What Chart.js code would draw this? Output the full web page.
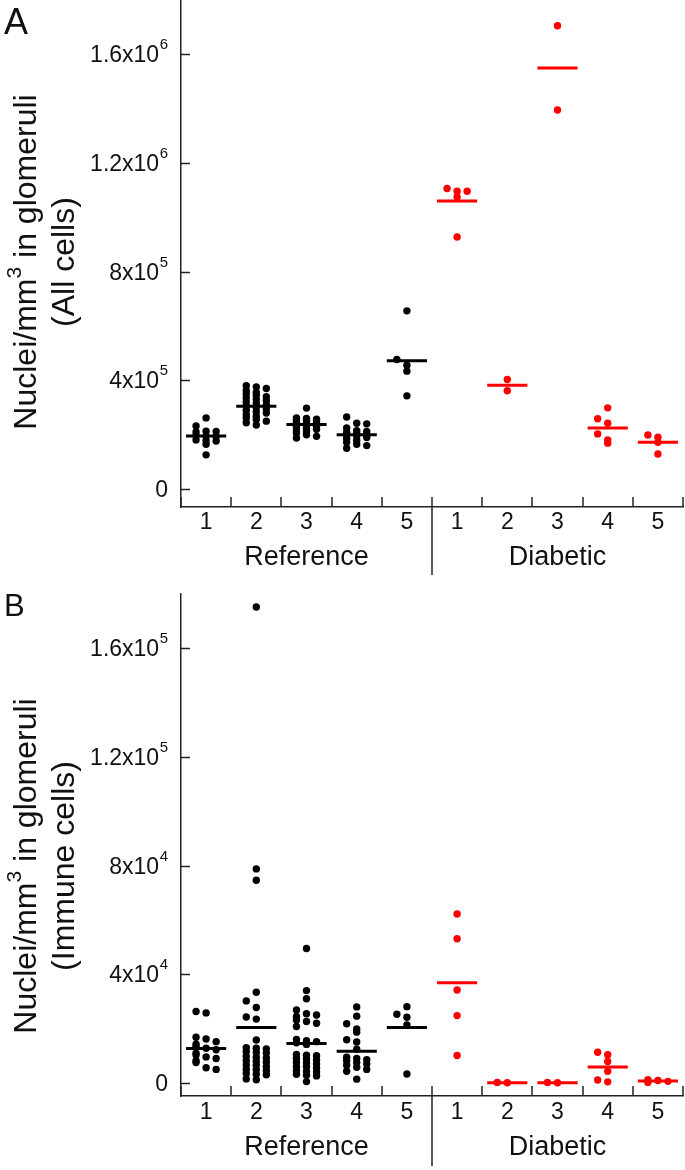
<!DOCTYPE html>
<html>
<head>
<meta charset="utf-8">
<script src="https://cdn.jsdelivr.net/npm/chart.js@4.4.1/dist/chart.umd.min.js"></script>
<style>
  body { margin: 0; background: #fff; width: 685px; height: 1170px; position: relative; overflow: hidden; }
  .panel { position: absolute; left: 0; width: 685px; }
  #wrapA { top: 0; height: 590px; }
  #wrapB { top: 590px; height: 580px; }
</style>
</head>
<body>
<div id="wrapA" class="panel"><canvas id="chartA" width="685" height="590"></canvas></div>
<div id="wrapB" class="panel"><canvas id="chartB" width="685" height="580"></canvas></div>
<script>
const catLabels = ['1', '2', '3', '4', '5', '1', '2', '3', '4', '5'];
const cohortLabels = ['Reference', 'Diabetic'];

// A: nuclei/mm3, all cells
const allRef1 = [262e3, 232e3, 213e3, 212e3, 210e3, 197e3, 195e3, 193e3, 181e3, 179e3, 177e3, 165e3, 126e3];
const allRef2 = [380e3, 376e3, 370e3, 362e3, 356e3, 350e3, 345e3, 340e3, 335e3, 330e3, 325e3, 320e3, 315e3, 310e3,
  305e3, 300e3, 295e3, 290e3, 285e3, 280e3, 274e3, 268e3, 262e3, 256e3, 250e3, 244e3, 236e3];
const allRef3 = [298e3, 262e3, 260e3, 257e3, 254e3, 251e3, 248e3, 245e3, 242e3, 239e3, 236e3, 233e3, 230e3, 227e3,
  224e3, 220e3, 216e3, 212e3, 206e3, 200e3, 194e3, 188e3];
const allRef4 = [265e3, 242e3, 240e3, 225e3, 215e3, 212e3, 208e3, 205e3, 200e3, 198e3, 195e3, 190e3, 185e3, 180e3,
  172e3, 165e3, 160e3, 150e3];
const allRef5 = [656e3, 477e3, 456e3, 434e3, 343e3];
const allDia1 = [1106e3, 1096e3, 1096e3, 1075e3, 928e3];
const allDia2 = [403e3, 362e3];
const allDia3 = [1705e3, 1395e3];
const allDia4 = [299e3, 259e3, 242e3, 203e3, 181e3, 169e3];
const allDia5 = [199e3, 191e3, 172e3, 129e3];
const allMeans = [195e3, 305e3, 238e3, 200e3, 472e3, 1060e3, 382e3, 1550e3, 225e3, 172e3];

// B: nuclei/mm3, immune cells
const immRef1 = [26.3e3, 25.8e3, 16.8e3, 16.2e3, 15.2e3, 14.3e3, 13.5e3, 12.8e3, 12.2e3, 11.0e3, 10.3e3, 9.6e3,
  9.0e3, 8.2e3, 7.5e3, 5.6e3, 5.0e3];
const immRef2 = [175.2e3, 78.8e3, 74.6e3, 33.4e3, 30.2e3, 27.8e3, 24.3e3, 23.5e3, 15.8e3, 13.0e3, 12.8e3, 12.5e3,
  11.5e3, 11.2e3, 11.0e3, 9.8e3, 9.5e3, 9.2e3, 8.2e3, 8.0e3, 7.6e3, 6.6e3, 6.5e3, 6.0e3, 5.0e3, 4.9e3, 4.5e3,
  3.5e3, 3.2e3, 3.0e3, 1.5e3, 1.2e3];
const immRef3 = [49.5e3, 34.0e3, 31.0e3, 26.9e3, 25.5e3, 25.0e3, 24.5e3, 23.2e3, 22.6e3, 22.0e3, 20.8e3, 16.0e3,
  15.6e3, 15.2e3, 14.8e3, 14.2e3, 10.5e3, 10.2e3, 10.0e3, 9.0e3, 8.8e3, 8.5e3, 7.5e3, 7.4e3, 7.0e3, 6.0e3, 6.0e3,
  5.5e3, 4.5e3, 4.2e3, 4.0e3, 3.2e3, 2.8e3, 2.6e3, 0.5e3];
const immRef4 = [28.0e3, 24.6e3, 21.8e3, 19.9e3, 18.7e3, 15.9e3, 15.1e3, 12.4e3, 9.5e3, 9.0e3, 8.6e3, 8.2e3, 7.5e3,
  7.0e3, 6.5e3, 5.8e3, 5.0e3, 4.3e3, 1.4e3];
const immRef5 = [28.1e3, 25.3e3, 24.2e3, 21.4e3, 3.3e3];
const immDia1 = [62.2e3, 53.1e3, 34.2e3, 24.8e3, 10.1e3];
const immDia2 = [0.2e3, 0.1e3];
const immDia3 = [0.2e3, 0.1e3];
const immDia4 = [11.3e3, 10.4e3, 7.9e3, 4.3e3, 1.1e3, 0.4e3];
const immDia5 = [1.2e3, 0.9e3, 0.6e3, 0.2e3];
const immMeans = [12.7e3, 20.4e3, 14.5e3, 11.7e3, 20.4e3, 36.9e3, 0.1e3, 0.1e3, 5.9e3, 0.7e3];

// y tick values and their labels (mantissa, exponent)
const ticksA = [0, 4e5, 8e5, 1.2e6, 1.6e6];
const tickTextA = [['0', ''], ['4x10', '5'], ['8x10', '5'], ['1.2x10', '6'], ['1.6x10', '6']];
const ticksB = [0, 4e4, 8e4, 1.2e5, 1.6e5];
const tickTextB = [['0', ''], ['4x10', '4'], ['8x10', '4'], ['1.2x10', '5'], ['1.6x10', '5']];

const FONT = '"Liberation Sans", Arial, sans-serif';
const RED = '#ff0000';
const BLACK = '#000000';

// spread points of one group sideways, row by row (dot plot)
function swarm(vals, cx, binVal, step) {
  const sorted = [...vals].sort((a, b) => b - a);
  const out = [];
  let i = 0;
  while (i < sorted.length) {
    let j = i;
    while (j < sorted.length && sorted[i] - sorted[j] <= binVal) j++;
    const bin = sorted.slice(i, j);
    const pat = bin.length === 1 ? [0] : bin.length === 2 ? [-1, 0] : [-1, 0, 1];
    bin.forEach((v, k) => out.push({ x: cx + pat[k % pat.length] * step, y: v }));
    i = j;
  }
  return out;
}

function sciLabel(ctx, mant, exp, xr, y) {
  ctx.textAlign = 'right';
  ctx.textBaseline = 'middle';
  let x = xr;
  if (exp) {
    ctx.font = '15px ' + FONT;
    ctx.fillText(exp, x, y - 10);
    x -= ctx.measureText(exp).width + 0.5;
  }
  ctx.font = '23px ' + FONT;
  ctx.fillText(mant, x, y + 1);
}

function decor(p) {
  return {
    id: 'decor',
    afterDraw(chart) {
      const ctx = chart.ctx;
      const xs = chart.scales.x, ys = chart.scales.y;
      const area = chart.chartArea;
      ctx.save();
      ctx.fillStyle = '#111';
      ctx.strokeStyle = '#222';
      ctx.lineWidth = 1.5;

      // y ticks pointing inward + labels
      p.ticks.forEach((v, i) => {
        const y = Math.round(ys.getPixelForValue(v)) + 0.5;
        ctx.beginPath();
        ctx.moveTo(area.left, y);
        ctx.lineTo(area.left + 9, y);
        ctx.stroke();
        sciLabel(ctx, p.tickText[i][0], p.tickText[i][1], area.left - 13, y);
      });

      // x ticks at group boundaries, pointing up
      for (let k = 0; k <= 10; k++) {
        const x = Math.round(xs.getPixelForValue(0.5 + k));
        ctx.beginPath();
        ctx.moveTo(x, area.bottom);
        ctx.lineTo(x, area.bottom - 10);
        ctx.stroke();
      }
      // divider between cohorts
      const xd = Math.round(xs.getPixelForValue(5.5));
      ctx.beginPath();
      ctx.moveTo(xd, area.bottom);
      ctx.lineTo(xd, area.bottom + p.divLen);
      ctx.stroke();

      // category numbers and cohort names
      ctx.textAlign = 'center';
      ctx.textBaseline = 'middle';
      ctx.font = '23px ' + FONT;
      catLabels.forEach((t, i) => ctx.fillText(t, xs.getPixelForValue(i + 1), area.bottom + p.digitDy));
      ctx.font = '27px ' + FONT;
      ctx.fillText(cohortLabels[0], xs.getPixelForValue(3), area.bottom + p.cohortDy);
      ctx.fillText(cohortLabels[1], xs.getPixelForValue(8), area.bottom + p.cohortDy);

      // panel letter
      ctx.textAlign = 'left';
      ctx.font = p.letterSize + 'px ' + FONT;
      ctx.fillText(p.letter, 4, p.letterY);

      // rotated y title
      ctx.translate(0, p.titleY);
      ctx.rotate(-Math.PI / 2);
      ctx.textBaseline = 'alphabetic';
      ctx.textAlign = 'left';
      ctx.font = '32px ' + FONT;
      const a = 'Nuclei/mm', b = ' in glomeruli';
      const wa = ctx.measureText(a).width, wb = ctx.measureText(b).width;
      ctx.font = '21px ' + FONT;
      const ws = ctx.measureText('3').width;
      const x0 = -(wa + ws + wb) / 2;
      ctx.font = '32px ' + FONT;
      ctx.fillText(a, x0, 36);
      ctx.fillText(b, x0 + wa + ws, 36);
      ctx.font = '21px ' + FONT;
      ctx.fillText('3', x0 + wa, 36 - 15);
      ctx.font = '32px ' + FONT;
      ctx.textAlign = 'center';
      ctx.fillText(p.title2, 0, 74);
      ctx.restore();
    }
  };
}

function buildPanel(id, groups, means, yMin, yMax, plotH, p, pad) {
  const binVal = 7 * (yMax - yMin) / plotH;
  const datasets = [];
  groups.forEach((vals, i) => {
    const color = i < 5 ? BLACK : RED;
    const cx = i + 1;
    datasets.push({
      data: [{ x: cx - 0.4, y: means[i] }, { x: cx + 0.4, y: means[i] }],
      showLine: true,
      borderColor: color,
      borderWidth: 3,
      pointRadius: 0,
      order: 0
    });
    datasets.push({
      data: swarm(vals, cx, binVal, 0.2),
      pointRadius: 3.7,
      pointBackgroundColor: color,
      pointBorderWidth: 0,
      order: 1
    });
  });

  return new Chart(document.getElementById(id), {
    type: 'scatter',
    data: { datasets },
    options: {
      responsive: false,
      animation: false,
      layout: { padding: pad, autoPadding: false },
      plugins: { legend: { display: false }, tooltip: { enabled: false } },
      scales: {
        x: {
          type: 'linear', min: 0.5, max: 10.5,
          grid: { display: false, drawTicks: false },
          ticks: { display: false },
          border: { display: true, color: '#222', width: 1.5 }
        },
        y: {
          type: 'linear', min: yMin, max: yMax,
          grid: { display: false, drawTicks: false },
          ticks: { display: false },
          border: { display: true, color: '#222', width: 1.5 }
        }
      }
    },
    plugins: [decor(p)]
  });
}

buildPanel('chartA',
  [allRef1, allRef2, allRef3, allRef4, allRef5, allDia1, allDia2, allDia3, allDia4, allDia5],
  allMeans, -66e3, 1.8e6, 507,
  { ticks: ticksA, tickText: tickTextA, title2: '(All cells)', letter: 'A', letterSize: 36, letterY: 24,
    titleY: 262, digitDy: 16, cohortDy: 51, divLen: 68 },
  { left: 181, right: 2, top: 0, bottom: 83 });

buildPanel('chartB',
  [immRef1, immRef2, immRef3, immRef4, immRef5, immDia1, immDia2, immDia3, immDia4, immDia5],
  immMeans, -4.8e3, 1.8e5, 502,
  { ticks: ticksB, tickText: tickTextB, title2: '(Immune cells)', letter: 'B', letterSize: 31, letterY: 17,
    titleY: 276, digitDy: 17, cohortDy: 52, divLen: 70 },
  { left: 181, right: 2, top: 4, bottom: 74 });
</script>
</body>
</html>
